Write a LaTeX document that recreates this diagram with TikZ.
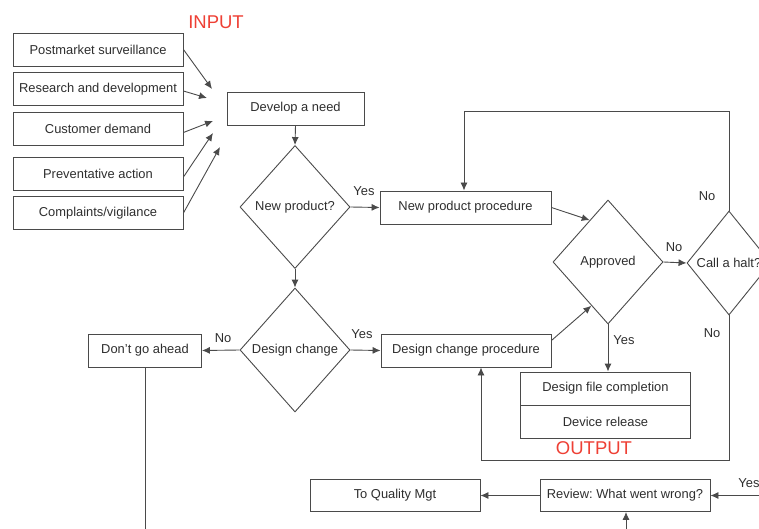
\documentclass[tikz,border=0pt]{standalone}
\usepackage{fontspec}
\setmainfont{Liberation Sans}
\usetikzlibrary{shapes.geometric,arrows.meta,calc}
\definecolor{linec}{HTML}{4A4A4A}
\definecolor{txt}{HTML}{2E2E2E}
\definecolor{redc}{HTML}{EE4035}
\frenchspacing
\begin{document}
\begin{tikzpicture}[x=1pt,y=-1pt,
  font=\fontsize{12.9}{15}\selectfont,
  box/.style={draw=linec, line width=0.9pt, minimum height=33pt, inner sep=0pt, text=txt},
  dia/.style={draw=linec, line width=0.9pt, shape=diamond, inner sep=0pt, aspect=1, text=txt},
  arr/.style={draw=linec, line width=0.9pt, -{Latex[length=8pt,width=7pt]}},
  plain/.style={draw=linec, line width=0.9pt},
  lbl/.style={text=txt, inner sep=0pt},
  redlbl/.style={text=redc, inner sep=0pt, font=\fontsize{18.5}{20}\selectfont}
]
\useasboundingbox (0,0) rectangle (759,529);
\clip (0,0) rectangle (759,529);

% input boxes
\node[box, minimum width=170pt] (pms) at (98,49.5) {Postmarket surveillance};
\node[box, minimum width=170pt] (rd) at (98,89) {Research and development};
\node[box, minimum width=170pt] (cd) at (98,128.5) {Customer demand};
\node[box, minimum width=170pt] (pa) at (98,174) {Preventative action};
\node[box, minimum width=170pt] (cv) at (98,213) {Complaints/vigilance};
\node[redlbl] (input) at (216,22) {INPUT};

\coordinate (i1) at (212,89);
\coordinate (i2) at (207,98);
\coordinate (i3) at (213,121);
\coordinate (i4) at (213,133);
\coordinate (i5) at (220,147);
\draw[arr] (pms.east) -- (i1);
\draw[arr] ([yshift=-2pt]rd.east) -- (i2);
\draw[arr] ([yshift=-4pt]cd.east) -- (i3);
\draw[arr] ([yshift=-3pt]pa.east) -- (i4);
\draw[arr] (cv.east) -- (i5);

% main flow
\node[box, minimum width=137pt] (dan) at (295.5,108.5) {Develop a need};
\node[dia, minimum width=110pt, minimum height=123pt] (np) at (295,207) {New product?};
\node[box, minimum width=171pt] (npp) at (465.5,207.5) {New product procedure};
\node[dia, minimum width=110pt, minimum height=124pt] (dc) at (295,350) {Design change};
\node[box, minimum width=113pt] (dga) at (145,350.5) {Don't go ahead};
\node[box, minimum width=170pt] (dcp) at (466,350.5) {Design change procedure};
\node[dia, minimum width=110pt, minimum height=124pt] (ap) at (608,262) {Approved};
\node[dia, minimum width=84pt, minimum height=104pt] (halt) at (729,263) {Call a halt?};
\node[box, minimum width=170pt] (dfc) at (605.5,388.5) {Design file completion};
\node[box, minimum width=170pt] (dr) at (605.5,421.5) {Device release};
\node[redlbl] (output) at (594,448) {OUTPUT};
\node[box, minimum width=170pt, minimum height=32pt] (tqm) at (395,495.5) {To Quality Mgt};
\node[box, minimum width=170pt, minimum height=32pt] (rev) at (625,495.5) {Review: What went wrong?};

\draw[arr] (dan.south) -- (np.north);
\draw[arr] (np.east) -- (npp.west);
\node[lbl] (y1) at (364,191) {Yes};
\draw[arr] (np.south) -- (dc.north);
\draw[arr] (dc.west) -- (dga.east);
\node[lbl] (n1) at (223,338) {No};
\draw[arr] (dc.east) -- (dcp.west);
\node[lbl] (y2) at (362,334) {Yes};

\draw[arr] (npp.east) -- ($(ap.west)!0.67!(ap.north)$);
\draw[arr] ([yshift=10pt]dcp.east) -- ($(ap.west)!0.7!(ap.south)$);
\draw[arr] (ap.east) -- (halt.west);
\node[lbl] (n2) at (674,247) {No};
\draw[arr] (ap.south) -- (ap.south |- dfc.north);
\node[lbl] (y3) at (624,340) {Yes};

\draw[arr] (halt.north) -- ++(0,-99) -| ([xshift=-1.5pt]npp.north);
\node[lbl] (n3) at (707,196) {No};
\draw[arr] (halt.south) -- ++(0,145) -| ([xshift=15pt]dcp.south);
\node[lbl] (n4) at (712,333) {No};

% bottom
\coordinate (dgaend) at (145,529);
\draw[plain] (dga.south) -- (dgaend);
\draw[arr] (rev.west) -- (tqm.east);
\coordinate (rin) at (759,495.5);
\draw[arr] (rin) -- (rev.east);
\node[lbl] (y4) at (749,483) {Yes};
\coordinate (bin) at (626,529);
\draw[arr] (bin) -- (bin |- rev.south);
\end{tikzpicture}
\end{document}
